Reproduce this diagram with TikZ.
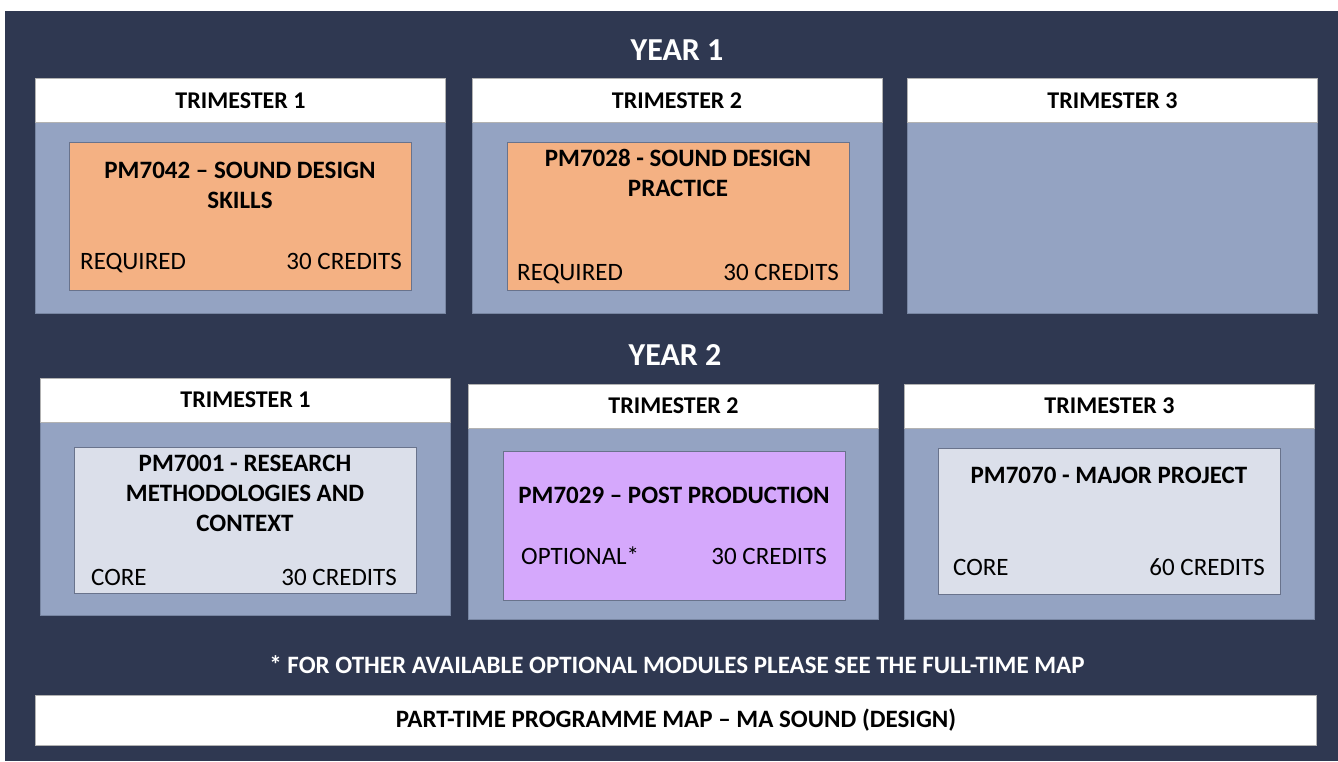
\documentclass[tikz,border=0pt]{standalone}
\usepackage{fontspec}
\setmainfont{Carlito}
\definecolor{navy}{RGB}{47,56,81}
\definecolor{trifill}{RGB}{148,163,194}
\definecolor{triline}{RGB}{120,134,162}
\definecolor{modline}{RGB}{105,115,140}
\definecolor{reqfill}{RGB}{244,177,131}
\definecolor{optfill}{RGB}{213,168,252}
\definecolor{corefill}{RGB}{219,223,234}
\newcommand{\modfont}{\fontsize{25}{30}\selectfont}
\newcommand{\hdrfont}{\bfseries\fontsize{24}{28}\selectfont}

\begin{document}
\begin{tikzpicture}
                \tikzset{x=1pt, y=-1pt}
                \tikzstyle{hdr}=[rectangle, draw=gray!60, fill=white, minimum width=410pt, minimum height=44pt, inner sep=0pt, font=\hdrfont]
                \tikzstyle{tri}=[rectangle, draw=triline, fill=trifill, minimum width=410pt, minimum height=191pt, inner sep=0pt]
                \tikzstyle{mod}=[rectangle, draw=modline, minimum width=342pt, minimum height=148pt, inner sep=0pt]
                \tikzstyle{req}=[mod, fill=reqfill]
                \tikzstyle{opt}=[mod, fill=optfill]
                \tikzstyle{core}=[mod, fill=corefill]
                \tikzstyle{title}=[align=center, inner sep=0pt, font=\bfseries\modfont]
                \tikzstyle{tagl}=[inner sep=0pt, anchor=base west, font=\modfont]
                \tikzstyle{tagr}=[inner sep=0pt, anchor=base east, font=\modfont]
                \tikzstyle{year}=[inner sep=0pt, text=white, font=\bfseries\fontsize{32}{36}\selectfont]

                \useasboundingbox (0,0) rectangle (1338,761);
                \fill[white] (0,0) rectangle (1338,761);
                \fill[navy] (5,11) rectangle (1338,761);

                % year 1
                \draw (677, 50)       node[year]  (y1)    {YEAR 1};

                \draw (240.5, 217.5)  node[tri]   (b11)   {};
                \draw (677.0, 217.5)  node[tri]   (b12)   {};
                \draw (1112.5, 217.5) node[tri]   (b13)   {};
                \draw (240.5, 100.5)  node[hdr]   (h11)   {TRIMESTER 1};
                \draw (677.0, 100.5)  node[hdr]   (h12)   {TRIMESTER 2};
                \draw (1112.5, 100.5) node[hdr]   (h13)   {TRIMESTER 3};

                \draw (240, 216)      node[req]   (m11)   {};
                \draw (240, 185)      node[title] (t11)   {PM7042 -- SOUND DESIGN\\SKILLS};
                \draw (80, 269)       node[tagl]  (r11)   {REQUIRED};
                \draw (402, 269)      node[tagr]  (c11)   {30 CREDITS};

                \draw (678, 216)      node[req]   (m12)   {};
                \draw (678, 173)      node[title] (t12)   {PM7028 - SOUND DESIGN\\PRACTICE};
                \draw (517, 280)      node[tagl]  (r12)   {REQUIRED};
                \draw (839, 280)      node[tagr]  (c12)   {30 CREDITS};

                % year 2
                \draw (675, 355)      node[year]  (y2)    {YEAR 2};

                \draw (245.5, 518.5)  node[tri, minimum height=193pt] (b21) {};
                \draw (673.5, 523.5)  node[tri]   (b22)   {};
                \draw (1109.5, 523.5) node[tri]   (b23)   {};
                \draw (245.5, 400)    node[hdr]   (h21)   {TRIMESTER 1};
                \draw (673.5, 406)    node[hdr]   (h22)   {TRIMESTER 2};
                \draw (1109.5, 406)   node[hdr]   (h23)   {TRIMESTER 3};

                \draw (245.5, 520)    node[core, minimum height=146pt] (m21) {};
                \draw (245, 493)      node[title] (t21)   {PM7001 - RESEARCH\\METHODOLOGIES AND\\CONTEXT};
                \draw (91, 585)       node[tagl]  (r21)   {CORE};
                \draw (397, 585)      node[tagr]  (c21)   {30 CREDITS};

                \draw (674, 525.5)    node[opt, minimum height=149pt] (m22) {};
                \draw (674, 495)      node[title] (t22)   {PM7029 -- POST PRODUCTION};
                \draw (521, 564)      node[tagl]  (r22)   {OPTIONAL*};
                \draw (827, 564)      node[tagr]  (c22)   {30 CREDITS};

                \draw (1109, 521)     node[core, minimum height=146pt] (m23) {};
                \draw (1109, 475)     node[title] (t23)   {PM7070 - MAJOR PROJECT};
                \draw (953, 575)      node[tagl]  (r23)   {CORE};
                \draw (1265, 575)     node[tagr]  (c23)   {60 CREDITS};

                % footer
                \draw (677, 665)      node[title, text=white] (note) {* FOR OTHER AVAILABLE OPTIONAL MODULES PLEASE SEE THE FULL-TIME MAP};
                \draw (676, 720)      node[hdr, minimum width=1281pt, minimum height=50pt, font=\bfseries\modfont] (map) {PART-TIME PROGRAMME MAP -- MA SOUND (DESIGN)};
            \end{tikzpicture}
\end{document}
